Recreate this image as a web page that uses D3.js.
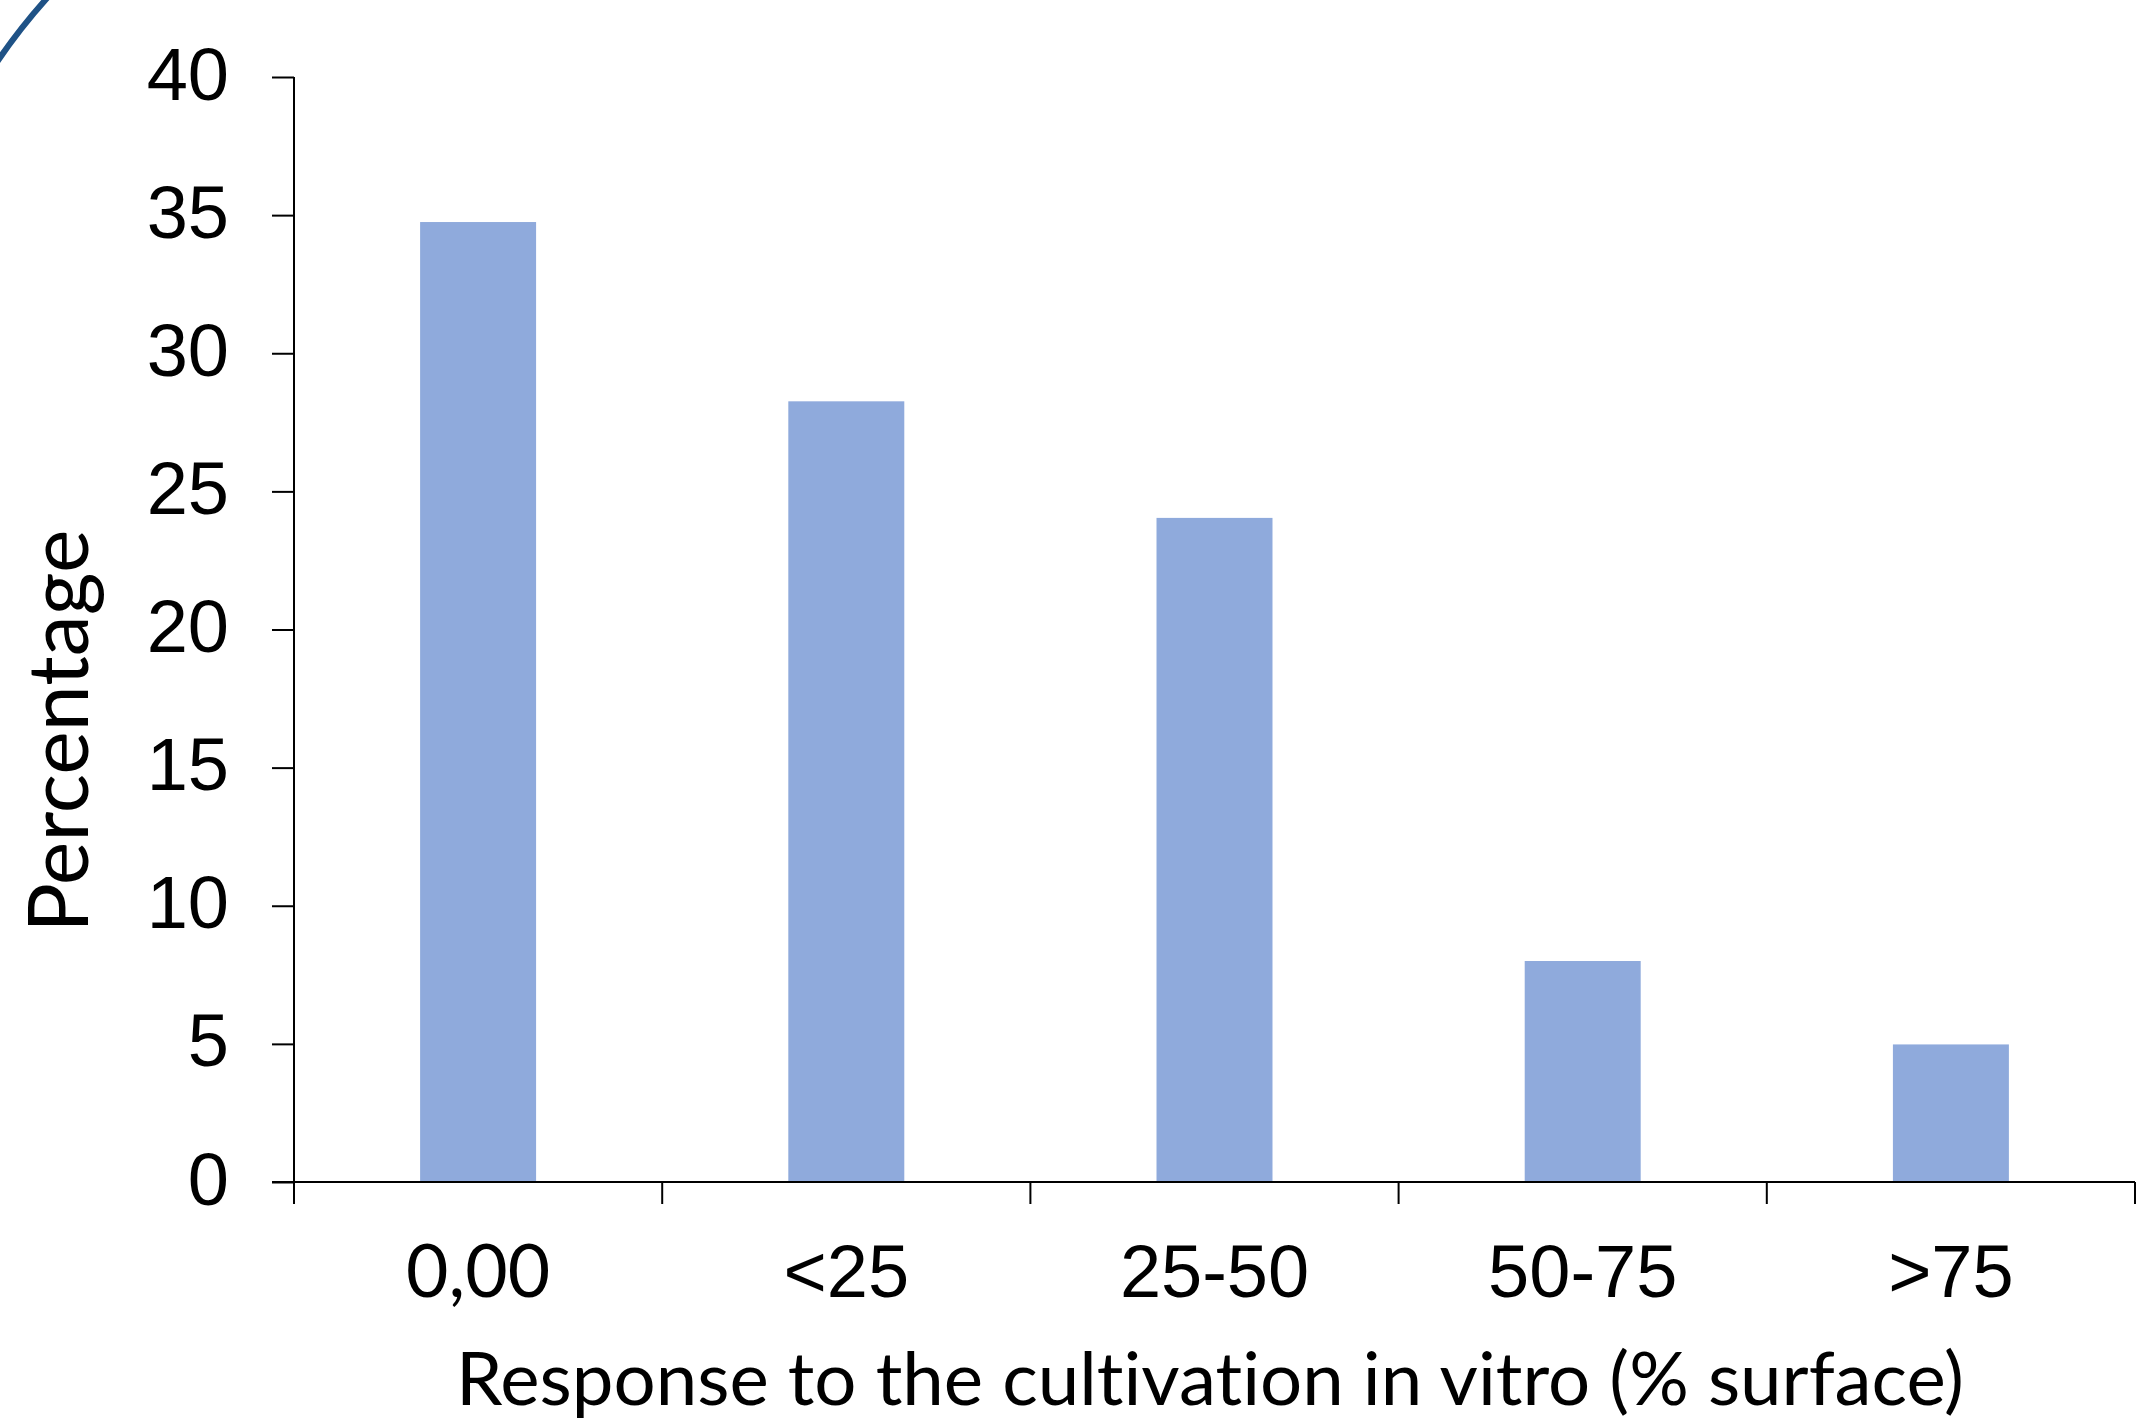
<!DOCTYPE html>
<html>
<head>
<meta charset="utf-8">
<script src="https://cdn.jsdelivr.net/npm/d3@7"></script>
<style>
  html, body { margin: 0; padding: 0; background: #ffffff; }
  svg { display: block; }
  text { font-variant-ligatures: none; font-feature-settings: "liga" 0, "clig" 0; }
</style>
</head>
<body>
<script>
// ---- data ----
const categories = ["0,00", "<25", "25-50", "50-75", ">75"];
const values = [34.75, 28.26, 24.04, 8.0, 4.98];
const yTicks = [0, 5, 10, 15, 20, 25, 30, 35, 40];
const yTitle = "Percentage";
const xTitle = "Response to the cultivation in vitro (% surface)";

// ---- layout ----
const W = 2136, H = 1424;
const plotLeft = 294, plotRight = 2135, plotTop = 77, plotBottom = 1182;
const tickLen = 22;
const barColor = "#8FAADC";
const arialFont = "'Liberation Sans', Arial, sans-serif";
const calibriLike = "Lato, 'Open Sans', sans-serif";

const svg = d3.select("body").append("svg")
  .attr("width", W).attr("height", H);

// decorative slide arc at top-left
svg.append("path")
  .attr("d", "M -3 62 Q 20 28 48 -3")
  .attr("fill", "none")
  .attr("stroke", "#1F5286")
  .attr("stroke-width", 6);

const x = d3.scaleBand().domain(categories).range([plotLeft, plotRight]).padding(0);
const y = d3.scaleLinear().domain([0, 40]).range([plotBottom, plotTop]);
const barW = x.bandwidth() * 0.315;

// bars
svg.append("g").selectAll("rect")
  .data(values)
  .join("rect")
  .attr("x", (d, i) => x(categories[i]) + x.bandwidth() / 2 - barW / 2)
  .attr("y", d => y(d))
  .attr("width", barW)
  .attr("height", d => y(0) - y(d))
  .attr("fill", barColor);

// y axis
const yAxis = d3.axisLeft(y).tickValues(yTicks).tickSize(tickLen).tickSizeOuter(0).tickPadding(43);
const gy = svg.append("g").attr("transform", `translate(${plotLeft},0)`).call(yAxis);
gy.select(".domain").remove();
gy.selectAll(".tick line").attr("stroke", "#000").attr("stroke-width", 2);
gy.selectAll(".tick text")
  .attr("font-family", arialFont)
  .attr("font-size", 74)
  .attr("fill", "#000")
  .attr("dy", null)
  .attr("y", 22);
// y axis line (extends below as the first x tick)
svg.append("line")
  .attr("x1", plotLeft).attr("x2", plotLeft)
  .attr("y1", y(40)).attr("y2", y(0) + tickLen)
  .attr("stroke", "#000").attr("stroke-width", 2);

// x axis line (extends left as the 0 y tick)
svg.append("line")
  .attr("x1", plotLeft - tickLen).attr("x2", plotRight)
  .attr("y1", y(0)).attr("y2", y(0))
  .attr("stroke", "#000").attr("stroke-width", 2);

// x boundary ticks
const boundaries = categories.map(c => x(c)).concat([x.range()[1]]);
svg.append("g").selectAll("line")
  .data(boundaries)
  .join("line")
  .attr("x1", d => d).attr("x2", d => d)
  .attr("y1", y(0)).attr("y2", y(0) + tickLen)
  .attr("stroke", "#000").attr("stroke-width", 2);

// x tick labels via axis
const xAxis = d3.axisBottom(x).tickSize(0).tickPadding(0);
const gx = svg.append("g").attr("transform", `translate(0,${plotBottom})`).call(xAxis);
gx.select(".domain").remove();
gx.selectAll(".tick text")
  .attr("dy", null)
  .attr("y", 1297 - plotBottom)
  .attr("fill", "#000")
  .attr("font-family", d => d === "0,00" ? calibriLike : arialFont)
  .attr("font-size", 74);

function fitText(sel, target, base) {
  sel.attr("font-size", base);
  const w = sel.node().getComputedTextLength();
  sel.attr("font-size", base * target / w);
}
fitText(gx.selectAll(".tick text").filter(d => d === "0,00"), 144, 80);

// axis titles
const xt = svg.append("text")
  .attr("x", 1210).attr("y", 1405)
  .attr("text-anchor", "middle")
  .attr("font-family", calibriLike)
  .attr("fill", "#000")
  .text(xTitle);
fitText(xt, 1508, 80);

const yt = svg.append("text")
  .attr("transform", "translate(88,731) rotate(-90)")
  .attr("text-anchor", "middle")
  .attr("font-family", calibriLike)
  .attr("fill", "#000")
  .text(yTitle);
fitText(yt, 403, 88);
</script>
</body>
</html>
